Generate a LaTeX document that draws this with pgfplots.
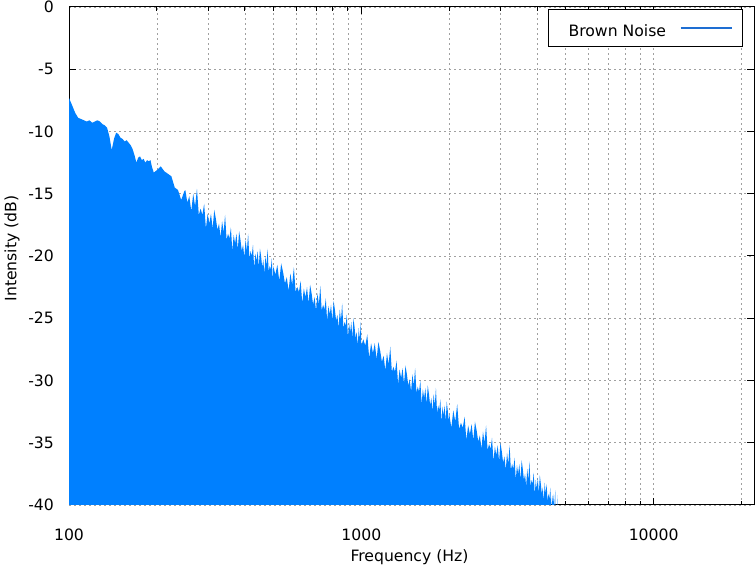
\documentclass[border=0pt]{standalone}
\usepackage{fontspec}
\setmainfont{DejaVu Sans}
\usepackage{pgfplots}
\pgfplotsset{compat=1.18}

\definecolor{fillblue}{RGB}{0,128,255}
\definecolor{legblue}{RGB}{30,110,210}
\definecolor{gridgray}{RGB}{160,160,160}
\newcommand\gfont{\fontsize{15.7}{18}\selectfont}

% grid and ticks under the data, border lines over it
\pgfplotsset{
  layers/gnu/.define layer set={axis background,axis grid,axis ticks,main,axis lines,axis tick labels,axis descriptions,axis foreground}{},
}

\begin{document}
\begin{tikzpicture}
\begin{axis}[
  set layers=gnu,
  at={(69bp,60bp)}, anchor=south west,
  scale only axis, width=685bp, height=498bp,
  xmode=log, xmin=100, xmax=22050,
  ymin=-40, ymax=0,
  xtick={100,1000,10000}, xticklabels={100,1000,10000},
  minor xtick={200,300,400,500,600,700,800,900,2000,3000,4000,5000,6000,7000,8000,9000,20000},
  ytick={-40,-35,-30,-25,-20,-15,-10,-5,0},
  yticklabels={-40,-35,-30,-25,-20,-15,-10,-5,0},
  xmajorgrids, xminorgrids, ymajorgrids,
  grid style={gridgray, dash pattern=on 2bp off 3bp, line width=0.8bp},
  minor grid style={gridgray, dash pattern=on 2bp off 3bp, line width=0.8bp},
  axis line style={black, line width=1bp},
  tick align=inside,
  tick style={black, line width=1bp},
  major tick length=7bp, minor tick length=4bp,
  xticklabel style={font=\gfont, anchor=base, inner sep=0pt, yshift=-35bp},
  yticklabel style={font=\gfont, anchor=east, inner sep=0pt, xshift=-15bp},
  xlabel={Frequency (Hz)}, ylabel={Intensity (dB)},
  every axis x label/.style={at={(rel axis cs:0.5,0)}, xshift=-2bp, yshift=-56.7bp, anchor=base, font=\gfont, inner sep=0pt},
  every axis y label/.style={at={(rel axis cs:0,0.515)}, xshift=-57bp, rotate=90, anchor=center, font=\gfont, inner sep=0pt},
  legend plot pos=right,
  legend style={at={(rel axis cs:0.984,0.996)}, anchor=north east,
    draw=black, line width=1bp, fill=white,
    inner xsep=10bp, inner ysep=11.5bp, column sep=14bp,
    nodes={inner sep=0pt, text height=11bp, text depth=3bp, font=\gfont}},
]
\addplot[fill=fillblue, draw=none,
  legend image code/.code={\draw[draw=legblue, line width=1.5bp] (0bp,0bp) -- (51bp,0bp);}]
coordinates {
(100,-40.5) (100,-7.3) (102.5,-7.9) (105,-8.5) (107.5,-8.9) (110,-9.0) (112.5,-9.1)
(115,-9.2) (117.5,-9.1) (120,-9.3) (122.5,-9.2) (125,-9.1) (127.5,-9.2) (130,-9.4)
(132.5,-9.5) (135,-9.7) (137.5,-10.4) (140,-11.5) (142.5,-10.6) (145,-10.1) (147.5,-10.2)
(150,-10.5) (152.5,-10.6) (155,-10.8) (157.5,-10.7) (160,-10.9) (162.5,-11.1) (165,-11.4)
(167.5,-11.9) (170,-12.5) (172.5,-12.1) (175,-12.0) (177.5,-12.3) (180,-12.2) (182.5,-12.5)
(185,-12.3) (187.5,-12.4) (190,-12.3) (192.5,-12.9) (195,-13.3) (197.5,-13.2)
(200,-13.1) (206,-12.8) (212,-13.2) (218,-13.4) (224,-13.6) (230,-14.5) (236,-14.7)
(242,-15.5) (248,-14.8)
(250,-14.7) (254,-15.7) (258,-15.2) (262,-16.4) (266,-15.0) (270,-16.0) (274,-14.6)
(278,-16.7) (282,-16.2) (286,-16.7) (290,-15.8) (294,-17.8) (298,-16.6) (302,-17.4)
(306,-16.6) (310,-17.8) (314,-16.3) (318,-17.0) (322,-17.9) (326,-17.4) (330,-18.5)
(334,-17.2) (338,-18.1) (342,-16.7) (346,-18.7) (350,-18.2) (354,-18.6) (358,-17.7)
(362,-19.6) (366,-18.3) (370,-19.0) (374,-18.2) (378,-19.5) (382,-18.0) (386,-18.7)
(390,-19.6) (394,-19.1) (398,-20.1) (402,-18.7) (406,-19.6) (410,-18.2) (414,-20.2)
(418,-19.6) (422,-20.0) (426,-19.1) (430,-21.0) (434,-19.8) (438,-20.4) (442,-19.6)
(446,-20.9) (450,-19.4) (454,-20.0) (458,-20.9) (462,-20.3) (466,-21.4) (470,-20.0)
(474,-20.8) (478,-19.4) (482,-21.3) (486,-20.8) (490,-21.1) (494,-20.2) (498,-22.1)
(500,-20.8) (508,-21.5) (516,-20.7) (524,-22.0) (532,-20.6) (540,-21.3) (548,-22.2)
(556,-21.7) (564,-22.8) (572,-21.4) (580,-22.3) (588,-20.9) (596,-22.9) (604,-22.5)
(612,-22.9) (620,-22.0) (628,-23.8) (636,-22.6) (644,-23.3) (652,-22.5) (660,-23.8)
(668,-22.3) (676,-23.0) (684,-23.9) (692,-23.3) (700,-24.4) (708,-23.0) (716,-23.9)
(724,-22.4) (732,-24.4) (740,-23.9) (748,-24.3) (756,-23.4) (764,-25.2) (772,-24.0)
(780,-24.7) (788,-23.9) (796,-25.2) (804,-23.6) (812,-24.3) (820,-25.2) (828,-24.7)
(836,-25.8) (844,-24.3) (852,-25.2) (860,-23.8) (868,-25.8) (876,-25.3) (884,-25.6)
(892,-24.7) (900,-26.6) (908,-25.4) (916,-26.1) (924,-25.3) (932,-26.6) (940,-25.0)
(948,-25.7) (956,-26.6) (964,-26.1) (972,-27.2) (980,-25.8) (988,-26.7) (996,-25.3)
(1000,-27.2) (1016,-26.7) (1032,-27.2) (1048,-26.3) (1064,-28.2) (1080,-27.0) (1096,-27.8)
(1112,-27.0) (1128,-28.3) (1144,-26.9) (1160,-27.6) (1176,-28.5) (1192,-28.0) (1208,-29.2)
(1224,-27.8) (1240,-28.7) (1256,-27.3) (1272,-29.3) (1288,-28.9) (1304,-29.3) (1320,-28.4)
(1336,-30.3) (1352,-29.1) (1368,-29.8) (1384,-29.0) (1400,-30.3) (1416,-28.8) (1432,-29.5)
(1448,-30.4) (1464,-29.9) (1480,-30.9) (1496,-29.5) (1512,-30.4) (1528,-29.0) (1544,-31.0)
(1560,-30.5) (1576,-30.9) (1592,-30.0) (1608,-31.9) (1624,-30.7) (1640,-31.4) (1656,-30.6)
(1672,-31.9) (1688,-30.4) (1704,-31.1) (1720,-32.0) (1736,-31.4) (1752,-32.5) (1768,-31.1)
(1784,-32.0) (1800,-30.6) (1816,-32.6) (1832,-32.0) (1848,-32.4) (1864,-31.5) (1880,-33.4)
(1896,-32.1) (1912,-32.8) (1928,-32.0) (1944,-33.3) (1960,-31.7) (1976,-32.4) (1992,-33.3)
(2000,-32.7) (2032,-33.8) (2064,-32.4) (2096,-33.3) (2128,-31.9) (2160,-33.9) (2192,-33.4)
(2224,-33.8) (2256,-32.9) (2288,-34.8) (2320,-33.6) (2352,-34.3) (2384,-33.5) (2416,-34.8)
(2448,-33.3) (2480,-34.0) (2512,-34.9) (2544,-34.4) (2576,-35.5) (2608,-34.1) (2640,-35.0)
(2672,-33.6) (2704,-35.6) (2736,-35.1) (2768,-35.5) (2800,-34.6) (2832,-36.5) (2864,-35.3)
(2896,-36.0) (2928,-35.2) (2960,-36.5) (2992,-35.0) (3024,-35.7) (3056,-36.6) (3088,-36.1)
(3120,-37.2) (3152,-35.8) (3184,-36.7) (3216,-35.2) (3248,-37.2) (3280,-36.7) (3312,-37.1)
(3344,-36.2) (3376,-38.0) (3408,-36.8) (3440,-37.5) (3472,-36.7) (3504,-38.0) (3536,-36.4)
(3568,-37.1) (3600,-38.0) (3632,-37.5) (3664,-38.5) (3696,-37.1) (3728,-38.0) (3760,-36.5)
(3792,-38.5) (3824,-38.0) (3856,-38.3) (3888,-37.4) (3920,-39.2) (3952,-38.0) (3984,-38.7)
(4016,-37.8) (4048,-39.1) (4080,-37.6) (4112,-38.3) (4144,-39.1) (4176,-38.6) (4208,-39.7)
(4240,-38.2) (4272,-39.1) (4304,-38.3) (4336,-39.7) (4368,-39.1) (4400,-39.5) (4432,-38.6)
(4464,-40.5) (4496,-39.2) (4528,-39.9) (4560,-39.1) (4592,-40.4)
(4600,-40.5) (4620,-40.5) (4625,-38.8) (4630,-40.5)
(4695,-40.5) (4700,-39.2) (4705,-40.5)
};
\addlegendentry{\hspace{10bp}\raisebox{-5bp}{Brown Noise}}
\end{axis}
\path (0,0) rectangle (755bp,565bp);
\end{tikzpicture}
\end{document}
